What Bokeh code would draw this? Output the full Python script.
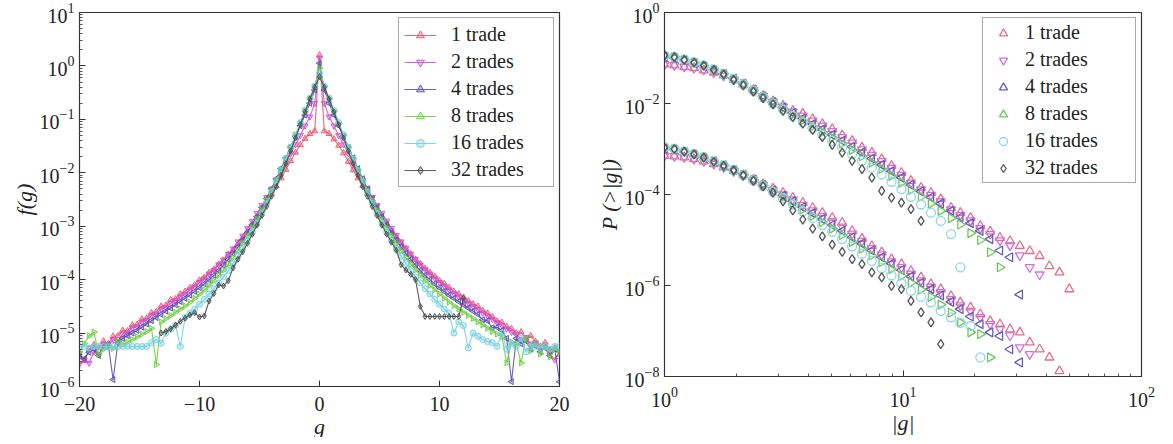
import math
import numpy as np
from bokeh.plotting import figure
from bokeh.layouts import row
from bokeh.models import Range1d, FixedTicker, LogTickFormatter, Legend, LegendItem, ColumnDataSource
from bokeh.embed import file_html
from bokeh.resources import INLINE

# ---------------- data ----------------
series_labels = ["1 trade", "2 trades", "4 trades", "8 trades", "16 trades", "32 trades"]

# left panel: bin centres g and log10 f(g) for each aggregation level
g_bins = [-20.0, -19.6, -19.2, -18.8, -18.4, -18.0, -17.6, -17.2, -16.8, -16.4,
          -16.0, -15.6, -15.2, -14.8, -14.4, -14.0, -13.6, -13.2, -12.8, -12.4,
          -12.0, -11.6, -11.2, -10.8, -10.4, -10.0, -9.6, -9.2, -8.8, -8.4,
          -8.0, -7.6, -7.2, -6.8, -6.4, -6.0, -5.6, -5.2, -4.8, -4.4,
          -4.0, -3.6, -3.2, -2.8, -2.4, -2.0, -1.6, -1.2, -0.8, -0.4,
          0.0,
          0.4, 0.8, 1.2, 1.6, 2.0, 2.4, 2.8, 3.2, 3.6, 4.0,
          4.4, 4.8, 5.2, 5.6, 6.0, 6.4, 6.8, 7.2, 7.6, 8.0,
          8.4, 8.8, 9.2, 9.6, 10.0, 10.4, 10.8, 11.2, 11.6, 12.0,
          12.4, 12.8, 13.2, 13.6, 14.0, 14.4, 14.8, 15.2, 15.6, 16.0,
          16.4, 16.8, 17.2, 17.6, 18.0, 18.4, 18.8, 19.2, 19.6, 20.0]

logf_1 = [-5.45, -5.52, -5.30, -5.22, -5.28, -5.15, -5.20, -5.06, -5.05, -4.95,
          -4.96, -4.85, -4.84, -4.74, -4.72, -4.62, -4.60, -4.50, -4.48, -4.38,
          -4.36, -4.27, -4.22, -4.15, -4.10, -4.01, -3.96, -3.87, -3.81, -3.71,
          -3.64, -3.53, -3.45, -3.33, -3.22, -3.10, -2.97, -2.84, -2.70, -2.55,
          -2.40, -2.25, -2.10, -1.94, -1.78, -1.62, -1.48, -1.36, -1.27, -1.22,
          0.20,
          -1.22, -1.27, -1.37, -1.49, -1.63, -1.79, -1.95, -2.10, -2.24, -2.39,
          -2.53, -2.68, -2.82, -2.95, -3.08, -3.20, -3.31, -3.42, -3.52, -3.62,
          -3.70, -3.79, -3.87, -3.94, -4.02, -4.08, -4.15, -4.22, -4.27, -4.33,
          -4.40, -4.46, -4.50, -4.58, -4.63, -4.70, -4.78, -4.80, -4.88, -4.92,
          -5.00, -4.98, -5.10, -5.05, -5.16, -5.25, -5.18, -5.32, -5.28, -5.40]

logf_2 = [-5.58, -5.50, -5.56, -5.35, -5.40, -5.22, -5.25, -5.12, -5.15, -5.02,
          -5.00, -4.90, -4.88, -4.79, -4.76, -4.67, -4.64, -4.55, -4.52, -4.44,
          -4.39, -4.32, -4.27, -4.19, -4.13, -4.05, -3.98, -3.89, -3.82, -3.72,
          -3.63, -3.52, -3.42, -3.29, -3.18, -3.04, -2.91, -2.76, -2.61, -2.46,
          -2.30, -2.14, -1.98, -1.81, -1.64, -1.47, -1.30, -1.12, -0.95, -0.70,
          0.15,
          -0.70, -0.95, -1.12, -1.30, -1.47, -1.64, -1.81, -1.98, -2.14, -2.30,
          -2.46, -2.61, -2.76, -2.90, -3.04, -3.17, -3.29, -3.41, -3.52, -3.62,
          -3.72, -3.81, -3.89, -3.97, -4.05, -4.12, -4.19, -4.26, -4.32, -4.38,
          -4.44, -4.50, -4.56, -4.62, -4.68, -4.74, -4.80, -4.86, -4.92, -4.98,
          -5.03, -5.12, -5.08, -5.20, -5.18, -5.30, -5.22, -5.40, -5.50, -5.35]

logf_4 = [-5.40, -5.48, -5.36, -5.30, -5.42, -5.25, -5.22, -5.87, -5.18, -5.10,
          -5.05, -5.00, -4.95, -4.89, -4.83, -4.77, -4.71, -4.65, -4.59, -4.53,
          -4.47, -4.41, -4.35, -4.29, -4.22, -4.15, -4.08, -4.00, -3.92, -3.83,
          -3.73, -3.62, -3.51, -3.39, -3.26, -3.12, -2.97, -2.82, -2.65, -2.48,
          -2.30, -2.11, -1.92, -1.72, -1.52, -1.32, -1.12, -0.92, -0.70, -0.45,
          0.05,
          -0.45, -0.70, -0.92, -1.12, -1.32, -1.52, -1.72, -1.92, -2.11, -2.30,
          -2.48, -2.65, -2.82, -2.97, -3.12, -3.26, -3.39, -3.51, -3.62, -3.73,
          -3.83, -3.92, -4.00, -4.08, -4.15, -4.22, -4.29, -4.35, -4.41, -4.47,
          -4.53, -4.59, -4.65, -4.75, -4.77, -4.90, -4.89, -4.95, -5.10, -5.91,
          -5.10, -5.20, -5.15, -5.30, -5.24, -5.35, -5.28, -5.42, -5.30, -5.91]

logf_8 = [-5.35, -5.20, -5.05, -4.98, -5.40, -5.30, -5.25, -5.29, -5.15, -5.21,
          -5.17, -5.12, -5.07, -5.02, -4.97, -4.91, -5.59, -4.79, -4.73, -4.67,
          -4.61, -4.55, -4.49, -4.42, -4.35, -4.27, -4.19, -4.11, -4.02, -3.92,
          -3.82, -3.71, -3.59, -3.46, -3.32, -3.18, -3.03, -2.87, -2.70, -2.52,
          -2.33, -2.14, -1.94, -1.73, -1.52, -1.30, -1.08, -0.85, -0.62, -0.38,
          -0.04,
          -0.38, -0.62, -0.85, -1.08, -1.30, -1.52, -1.73, -1.94, -2.14, -2.33,
          -2.52, -2.70, -2.87, -3.03, -3.18, -3.32, -3.46, -3.59, -3.71, -3.82,
          -3.92, -4.02, -4.11, -4.19, -4.27, -4.35, -4.42, -4.49, -4.55, -4.61,
          -4.67, -4.73, -4.79, -4.85, -4.91, -4.97, -5.02, -5.07, -5.56, -5.17,
          -5.21, -5.56, -5.10, -5.33, -5.20, -5.39, -5.25, -5.45, -5.30, -5.35]

logf_16 = [-5.25, -5.25, -5.28, -5.25, -5.25, -5.25, -5.25, -5.25, -5.25, -5.25,
           -5.25, -5.25, -5.25, -5.25, -5.25, -5.18, -5.12, -5.19, -5.00, -4.93,
           -4.86, -5.25, -4.71, -4.63, -4.55, -4.46, -4.37, -4.27, -4.17, -4.06,
           -3.95, -3.83, -3.70, -3.56, -3.42, -3.27, -3.11, -2.94, -2.76, -2.57,
           -2.37, -2.17, -1.96, -1.74, -1.52, -1.29, -1.06, -0.83, -0.60, -0.38,
           -0.13,
           -0.38, -0.60, -0.83, -1.06, -1.29, -1.52, -1.74, -1.96, -2.17, -2.37,
           -2.57, -2.76, -2.94, -3.11, -3.27, -3.42, -3.56, -3.70, -3.83, -3.95,
           -4.06, -4.17, -4.27, -4.37, -4.46, -4.55, -4.63, -5.00, -4.79, -4.86,
           -5.28, -5.00, -5.06, -5.12, -5.16, -5.18, -5.25, -5.00, -5.30, -5.20,
           -5.25, -5.10, -5.35, -5.25, -5.25, -5.28, -5.25, -5.30, -5.25, -5.25]

nan = float("nan")
logf_32 = [nan, nan, nan, nan, nan, nan, nan, nan, nan, nan,
           nan, nan, nan, nan, nan, nan, nan, -5.00, -4.97, -4.92,
           -4.85, -4.78, -4.72, -4.66, -4.62, -4.70, -4.68, -4.40, -4.26, -4.10,
           -4.12, -4.02, -3.78, -3.62, -3.48, -3.32, -3.15, -2.98, -2.80, -2.63,
           -2.44, -2.26, -2.05, -1.83, -1.59, -1.35, -1.10, -0.86, -0.62, -0.40,
           -0.20,
           -0.40, -0.62, -0.86, -1.10, -1.35, -1.59, -1.83, -2.05, -2.26, -2.44,
           -2.63, -2.80, -2.98, -3.15, -3.30, -3.45, -3.72, -3.82, -3.90, -4.00,
           -4.50, -4.69, -4.69, -4.69, -4.69, -4.69, -4.69, -4.69, -4.69, -4.35,
           nan, nan, nan, nan, nan, nan, nan, nan, nan, nan,
           nan, nan, nan, nan, nan, nan, nan, nan, nan, nan]

# right panel: |g| grid and log10 P(>|g|), upper set and lower (shifted) set
g_abs = [1.0, 1.1, 1.21, 1.33, 1.46, 1.61, 1.77, 1.95, 2.14, 2.36,
         2.59, 2.85, 3.14, 3.45, 3.80, 4.18, 4.59, 5.05, 5.56, 6.12,
         6.73, 7.40, 8.14, 8.95, 9.85, 10.8, 11.9, 13.1, 14.4, 15.9,
         17.4, 19.2, 21.1, 23.2, 25.5, 28.1, 30.9, 34.0, 37.4, 41.1,
         45.3, 49.8]

logP_up_1 = [-1.14, -1.16, -1.20, -1.22, -1.27, -1.32, -1.38, -1.48, -1.58, -1.70,
             -1.83, -1.95, -2.05, -2.16, -2.22, -2.34, -2.45, -2.56, -2.70, -2.82,
             -2.97, -3.08, -3.22, -3.37, -3.52, -3.70, -3.85, -3.96, -4.10, -4.29,
             -4.40, -4.51, -4.69, -4.81, -4.95, -5.02, -5.13, -5.24, -5.35, -5.57,
             -5.71, -6.08]
logP_up_2 = [-1.14, -1.16, -1.19, -1.22, -1.26, -1.32, -1.39, -1.48, -1.58, -1.71,
             -1.84, -1.96, -2.07, -2.18, -2.27, -2.38, -2.49, -2.61, -2.74, -2.86,
             -3.01, -3.13, -3.27, -3.42, -3.57, -3.74, -3.89, -4.01, -4.15, -4.33,
             -4.45, -4.57, -4.74, -4.87, -5.01, -5.12, -5.34, -5.60, -5.76]
logP_up_4 = [-0.97, -1.00, -1.05, -1.11, -1.18, -1.26, -1.35, -1.45, -1.57, -1.70,
             -1.84, -1.97, -2.09, -2.21, -2.33, -2.45, -2.57, -2.69, -2.82, -2.95,
             -3.08, -3.21, -3.35, -3.49, -3.63, -3.79, -3.93, -4.06, -4.20, -4.36,
             -4.50, -4.63, -4.80, -4.98, -5.23, -5.38, -6.20]
logP_up_8 = [-0.95, -0.98, -1.04, -1.10, -1.17, -1.25, -1.35, -1.45, -1.57, -1.71,
             -1.85, -1.98, -2.11, -2.24, -2.37, -2.50, -2.63, -2.75, -2.88, -3.02,
             -3.16, -3.30, -3.44, -3.59, -3.74, -3.90, -4.05, -4.20, -4.36, -4.52,
             -4.66, -4.85, -5.00, -5.27, -5.60]
logP_up_16 = [-0.94, -0.97, -1.03, -1.09, -1.16, -1.25, -1.35, -1.46, -1.58, -1.72,
              -1.86, -2.00, -2.13, -2.27, -2.41, -2.55, -2.69, -2.82, -2.96, -3.11,
              -3.26, -3.41, -3.56, -3.72, -3.88, -4.05, -4.22, -4.40, -4.58, -4.87,
              -5.60]
logP_up_32 = [-0.94, -0.98, -1.04, -1.10, -1.17, -1.26, -1.36, -1.48, -1.60, -1.74,
              -1.88, -2.02, -2.16, -2.30, -2.44, -2.58, -2.74, -2.91, -3.08, -3.26,
              -3.44, -3.63, -3.92, -4.07, -4.18, -4.32, -4.58]

logP_lo_1 = [-3.15, -3.16, -3.18, -3.22, -3.27, -3.33, -3.40, -3.48, -3.57, -3.67,
             -3.77, -3.87, -3.96, -4.07, -4.18, -4.29, -4.40, -4.51, -4.62, -4.80,
             -4.97, -5.13, -5.27, -5.42, -5.53, -5.68, -5.82, -5.97, -6.08, -6.23,
             -6.37, -6.48, -6.63, -6.78, -6.85, -6.96, -7.03, -7.25, -7.40, -7.58,
             -7.88]
logP_lo_2 = [-3.15, -3.16, -3.18, -3.22, -3.27, -3.33, -3.40, -3.49, -3.58, -3.68,
             -3.79, -3.90, -4.00, -4.11, -4.23, -4.35, -4.47, -4.59, -4.71, -4.86,
             -5.02, -5.18, -5.32, -5.47, -5.60, -5.74, -5.89, -6.03, -6.15, -6.30,
             -6.44, -6.56, -6.70, -6.85, -6.95, -7.10, -7.36, -7.51]
logP_lo_4 = [-2.99, -3.01, -3.06, -3.12, -3.19, -3.27, -3.36, -3.46, -3.56, -3.67,
             -3.79, -3.91, -4.03, -4.15, -4.28, -4.41, -4.54, -4.67, -4.80, -4.94,
             -5.08, -5.23, -5.38, -5.52, -5.66, -5.80, -5.94, -6.08, -6.22, -6.36,
             -6.52, -6.68, -6.85, -7.03, -7.11, -7.40, -7.69]
logP_lo_8 = [-2.97, -3.00, -3.06, -3.12, -3.19, -3.27, -3.36, -3.46, -3.57, -3.68,
             -3.80, -3.93, -4.06, -4.19, -4.33, -4.47, -4.61, -4.75, -4.89, -5.04,
             -5.19, -5.34, -5.49, -5.64, -5.79, -5.94, -6.09, -6.25, -6.42, -6.60,
             -6.81, -7.03, -7.07, -7.58]
logP_lo_16 = [-2.96, -2.99, -3.05, -3.11, -3.18, -3.27, -3.36, -3.46, -3.57, -3.69,
              -3.81, -3.94, -4.08, -4.22, -4.37, -4.52, -4.67, -4.82, -4.98, -5.14,
              -5.30, -5.46, -5.62, -5.78, -5.95, -6.12, -6.25, -6.37, -6.56, -6.70,
              -6.82, -6.89, -7.58]
logP_lo_32 = [-2.97, -3.00, -3.06, -3.12, -3.19, -3.28, -3.37, -3.47, -3.58, -3.70,
              -3.82, -3.96, -4.15, -4.35, -4.55, -4.75, -4.92, -5.10, -5.26, -5.42,
              -5.53, -5.71, -5.82, -6.01, -6.08, -6.34, -6.59, -6.81, -7.29]

left_series = [logf_1, logf_2, logf_4, logf_8, logf_16, logf_32]
upper_series = [logP_up_1, logP_up_2, logP_up_4, logP_up_8, logP_up_16, logP_up_32]
lower_series = [logP_lo_1, logP_lo_2, logP_lo_4, logP_lo_8, logP_lo_16, logP_lo_32]

# ---------------- style ----------------
FONT = "Liberation Serif"
left_colors = ["#e4566a", "#d24fd2", "#5a4fb0", "#6ccf3c", "#72cfe0", "#4a4a4a"]
right_colors = ["#e0708a", "#d070d8", "#6a5ab8", "#6cc85c", "#8fd6e6", "#555555"]
markers = ["triangle", "inverted_triangle", "triangle", "triangle", "circle", "diamond"]
angles = [0.0, 0.0, math.pi / 2, -math.pi / 2, 0.0, 0.0]


def style_axis(ax, label_standoff):
    ax.major_label_text_font = FONT
    ax.major_label_text_font_size = "20px"
    ax.major_label_text_color = "#222222"
    ax.major_label_standoff = label_standoff
    ax.axis_label_text_font = FONT
    ax.axis_label_text_font_size = "22px"
    ax.axis_label_text_font_style = "italic"
    ax.axis_label_text_color = "#222222"
    ax.axis_label_standoff = 0
    ax.major_tick_in = 6
    ax.major_tick_out = 0
    ax.minor_tick_in = 3
    ax.minor_tick_out = 0
    ax.axis_line_color = "#333333"
    ax.major_tick_line_color = "#333333"
    ax.minor_tick_line_color = "#555555"


def style_plot(p):
    for ax in p.xaxis:
        style_axis(ax, 10)
    for ax in p.yaxis:
        style_axis(ax, 5)
    p.xgrid.visible = False
    p.ygrid.visible = False
    p.outline_line_color = "#333333"
    p.outline_line_width = 1.2


def make_legend(items, padding, glyph_w, standoff, label_w):
    return Legend(items=items, location="top_right", margin=5, padding=padding,
                  spacing=4, glyph_width=glyph_w, glyph_height=20, label_height=20,
                  label_width=label_w, label_standoff=standoff,
                  label_text_font=FONT, label_text_font_size="20px",
                  label_text_color="#222222", border_line_color="#555555",
                  border_line_width=1.5, background_fill_alpha=1.0)


# ---------------- left panel ----------------
p1 = figure(frame_width=480, frame_height=374,
            x_range=Range1d(-20, 20), y_range=Range1d(1e-6, 10),
            y_axis_type="log", output_backend="svg", toolbar_location=None,
            min_border_left=79, min_border_right=33, min_border_top=8, min_border_bottom=52)
p1.xaxis.ticker = FixedTicker(ticks=[-20, -10, 0, 10, 20], minor_ticks=[])
p1.xaxis.major_label_overrides = {-20: "\u221220", -10: "\u221210", 0: "0", 10: "10", 20: "20"}
p1.yaxis.ticker = FixedTicker(ticks=[10.0 ** e for e in range(-6, 2)],
                              minor_ticks=[m * 10.0 ** e for e in range(-6, 1) for m in range(2, 10)])
p1.yaxis.formatter = LogTickFormatter()
p1.xaxis.axis_label = "g"
p1.yaxis.axis_label = "f(g)"
style_plot(p1)

items1 = []
gx = np.array(g_bins)
for lab, vals, col, mk, ang in zip(series_labels, left_series, left_colors, markers, angles):
    y = 10.0 ** np.array(vals, dtype=float)
    src = ColumnDataSource(dict(x=gx, y=y, ang=[ang] * len(gx)))
    r_line = p1.line("x", "y", source=src, line_color=col, line_width=1.1, line_alpha=0.9)
    r_pts = p1.scatter("x", "y", source=src, marker=mk, angle="ang", size=6, line_color=col,
                       line_width=1.0, fill_color=col, fill_alpha=0.35, line_alpha=0.9)
    items1.append(LegendItem(label=lab, renderers=[r_line, r_pts]))
p1.add_layout(make_legend(items1, padding=5, glyph_w=32, standoff=15, label_w=97))

# ---------------- right panel ----------------
p2 = figure(frame_width=477, frame_height=364,
            x_range=Range1d(1, 100), y_range=Range1d(1e-8, 1),
            x_axis_type="log", y_axis_type="log", output_backend="svg", toolbar_location=None,
            min_border_left=72, min_border_right=16, min_border_top=12, min_border_bottom=58)
p2.xaxis.ticker = FixedTicker(ticks=[1, 10, 100],
                              minor_ticks=[m * 10.0 ** e for e in range(0, 2) for m in range(2, 10)])
p2.xaxis.formatter = LogTickFormatter()
p2.yaxis.ticker = FixedTicker(ticks=[1e-8, 1e-6, 1e-4, 1e-2, 1.0], minor_ticks=[])
p2.yaxis.formatter = LogTickFormatter()
p2.xaxis.axis_label = "|g|"
p2.yaxis.axis_label = "P (>|g|)"
style_plot(p2)

items2 = []
for lab, up, lo, col, mk, ang in zip(series_labels, upper_series, lower_series, right_colors, markers, angles):
    src_u = ColumnDataSource(dict(x=g_abs[:len(up)], y=list(10.0 ** np.array(up)), ang=[ang] * len(up)))
    src_l = ColumnDataSource(dict(x=g_abs[:len(lo)], y=list(10.0 ** np.array(lo)), ang=[ang] * len(lo)))
    r_up = p2.scatter("x", "y", source=src_u, marker=mk, angle="ang", size=9, line_color=col,
                      line_width=1.3, fill_color=None)
    p2.scatter("x", "y", source=src_l, marker=mk, angle="ang", size=9, line_color=col,
               line_width=1.3, fill_color=None)
    items2.append(LegendItem(label=lab, renderers=[r_up]))
p2.add_layout(make_legend(items2, padding=3, glyph_w=34, standoff=5, label_w=107))

layout = row(p1, p2)
open("out.html", "w").write(file_html(layout, INLINE))
